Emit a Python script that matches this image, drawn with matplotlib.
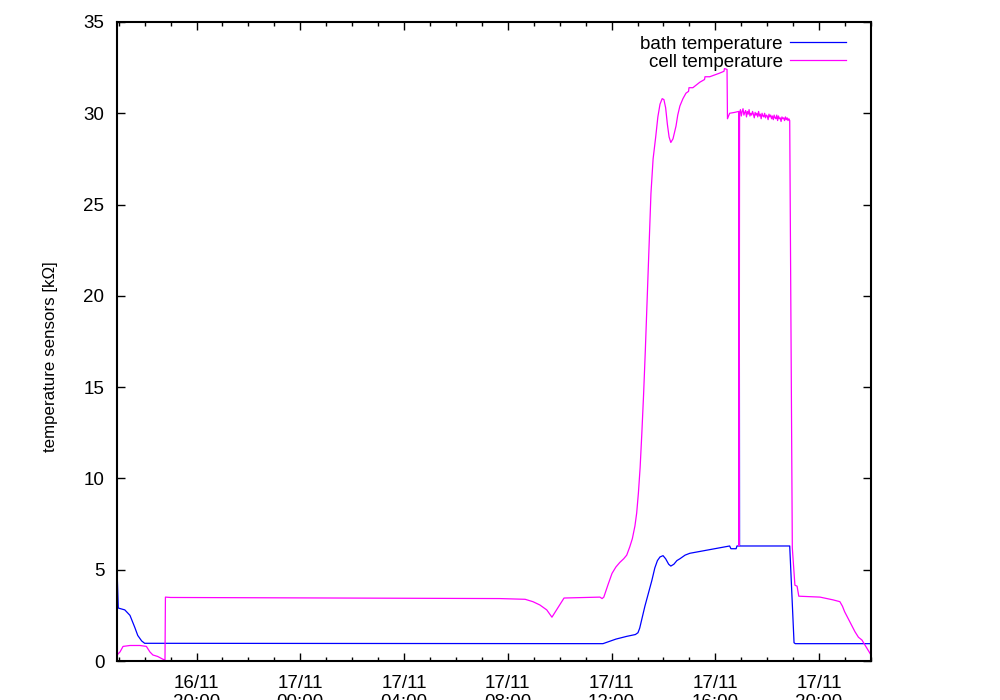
import matplotlib
matplotlib.use("Agg")

import matplotlib.pyplot as plt
import matplotlib.dates as mdates
import pandas as pd

# bath temperature sensor [kOhm]
bath_times = [
    "2011-11-16 16:56", "2011-11-16 16:59", "2011-11-16 17:14", "2011-11-16 17:26",
    "2011-11-16 17:37", "2011-11-16 17:44", "2011-11-16 17:53", "2011-11-16 18:00",
    "2011-11-17 11:40", "2011-11-17 12:10", "2011-11-17 12:35", "2011-11-17 12:55",
    "2011-11-17 13:01", "2011-11-17 13:05", "2011-11-17 13:10", "2011-11-17 13:17",
    "2011-11-17 13:25", "2011-11-17 13:33", "2011-11-17 13:40", "2011-11-17 13:46",
    "2011-11-17 13:52", "2011-11-17 13:59", "2011-11-17 14:05", "2011-11-17 14:12",
    "2011-11-17 14:17", "2011-11-17 14:24", "2011-11-17 14:31", "2011-11-17 14:38",
    "2011-11-17 14:50", "2011-11-17 15:01", "2011-11-17 15:24", "2011-11-17 15:47",
    "2011-11-17 16:10", "2011-11-17 16:33", "2011-11-17 16:36", "2011-11-17 16:48",
    "2011-11-17 16:50", "2011-11-17 16:54", "2011-11-17 16:55", "2011-11-17 16:56",
    "2011-11-17 18:52", "2011-11-17 19:02", "2011-11-17 19:05", "2011-11-17 22:00",
]
bath_values = [
    5.05, 2.9, 2.8, 2.5,
    1.85, 1.4, 1.1, 0.97,
    0.95, 1.2, 1.35, 1.45,
    1.55, 1.8, 2.3, 3.0,
    3.7, 4.4, 5.1, 5.5,
    5.7, 5.77, 5.6, 5.3,
    5.2, 5.3, 5.5, 5.6,
    5.8, 5.9, 6.0, 6.1,
    6.2, 6.3, 6.15, 6.15,
    6.3, 6.3, 30.0, 6.3,
    6.3, 1.0, 0.95, 0.95,
]

# cell temperature sensor [kOhm], part before the noisy plateau
cell_times_a = [
    "2011-11-16 16:56", "2011-11-16 16:57", "2011-11-16 17:03", "2011-11-16 17:10",
    "2011-11-16 17:26", "2011-11-16 17:49", "2011-11-16 18:04", "2011-11-16 18:12",
    "2011-11-16 18:19", "2011-11-16 18:30", "2011-11-16 18:42", "2011-11-16 18:47",
    "2011-11-16 18:48", "2011-11-16 19:00", "2011-11-17 07:41", "2011-11-17 08:40",
    "2011-11-17 08:58", "2011-11-17 09:14", "2011-11-17 09:30", "2011-11-17 09:42",
    "2011-11-17 10:10", "2011-11-17 11:33", "2011-11-17 11:38", "2011-11-17 11:42",
    "2011-11-17 11:52", "2011-11-17 12:01", "2011-11-17 12:10", "2011-11-17 12:19",
    "2011-11-17 12:28", "2011-11-17 12:35", "2011-11-17 12:42", "2011-11-17 12:48",
    "2011-11-17 12:54", "2011-11-17 12:58", "2011-11-17 13:02", "2011-11-17 13:06",
    "2011-11-17 13:10", "2011-11-17 13:14", "2011-11-17 13:18", "2011-11-17 13:24",
    "2011-11-17 13:31", "2011-11-17 13:36", "2011-11-17 13:42", "2011-11-17 13:47",
    "2011-11-17 13:52", "2011-11-17 13:57", "2011-11-17 14:01", "2011-11-17 14:05",
    "2011-11-17 14:09", "2011-11-17 14:13", "2011-11-17 14:17", "2011-11-17 14:22",
    "2011-11-17 14:29", "2011-11-17 14:33", "2011-11-17 14:38", "2011-11-17 14:45",
    "2011-11-17 14:52", "2011-11-17 14:58", "2011-11-17 14:59", "2011-11-17 15:08",
    "2011-11-17 15:24", "2011-11-17 15:35", "2011-11-17 15:36", "2011-11-17 15:47",
    "2011-11-17 16:10", "2011-11-17 16:20", "2011-11-17 16:21", "2011-11-17 16:27",
    "2011-11-17 16:28", "2011-11-17 16:33", "2011-11-17 16:45", "2011-11-17 16:54",
]
cell_values_a = [
    5.0, 0.35, 0.5, 0.8,
    0.85, 0.85, 0.8, 0.5,
    0.33, 0.25, 0.1, 0.05,
    3.5, 3.48, 3.42, 3.38,
    3.25, 3.07, 2.8, 2.4,
    3.45, 3.5, 3.42, 3.5,
    4.2, 4.8, 5.15, 5.4,
    5.6, 5.8, 6.25, 6.7,
    7.4, 8.1, 9.2, 10.6,
    12.5, 14.6, 17.0, 21.0,
    25.6, 27.5, 28.7, 29.8,
    30.5, 30.8, 30.75, 30.3,
    29.4, 28.7, 28.4, 28.6,
    29.3, 29.9, 30.4, 30.8,
    31.1, 31.2, 31.4, 31.4,
    31.7, 31.85, 32.0, 32.0,
    32.2, 32.3, 32.45, 32.4,
    29.7, 30.0, 30.05, 30.1,
]

# short dip of the cell reading at the moment of the bath spike
cell_dip_times = ["2011-11-17 16:55", "2011-11-17 16:56"]
cell_dip_values = [6.3, 30.0]

# noisy plateau, one reading every 2 min starting 16:58
cell_plateau_start = "2011-11-17 16:58"
cell_plateau_values = [
    30.2, 29.85, 30.1, 30.25, 29.9, 30.05, 30.15, 29.8, 30.1, 29.95,
    30.2, 29.85, 30.0, 29.9, 30.1, 29.95, 29.75, 30.05, 29.9, 30.0,
    29.8, 30.1, 29.85, 29.95, 29.7, 30.0, 29.85, 29.8, 30.0, 29.75,
    29.9, 29.85, 29.65, 29.95, 29.8, 29.9, 29.7, 29.85, 29.65, 29.9,
    29.75, 29.7, 29.9, 29.6, 29.85, 29.7, 29.75, 29.55, 29.8, 29.7,
    29.75, 29.6, 29.8, 29.65, 29.75, 29.6, 29.7,
]

# cell temperature after the plateau
cell_times_b = [
    "2011-11-17 18:52", "2011-11-17 18:54", "2011-11-17 18:58", "2011-11-17 19:04",
    "2011-11-17 19:09", "2011-11-17 19:13", "2011-11-17 20:02", "2011-11-17 20:32",
    "2011-11-17 20:48", "2011-11-17 20:54", "2011-11-17 20:59", "2011-11-17 21:11",
    "2011-11-17 21:23", "2011-11-17 21:31", "2011-11-17 21:39", "2011-11-17 22:00",
]
cell_values_b = [
    29.6, 21.6, 6.2, 4.15,
    4.1, 3.55, 3.5, 3.35,
    3.25, 3.0, 2.7, 2.15,
    1.6, 1.3, 1.15, 0.33,
]

x_start = "2011-11-16 16:56"
x_end = "2011-11-17 22:00"

plateau_times = pd.date_range(cell_plateau_start, periods=len(cell_plateau_values), freq="2min")

bath = pd.Series(bath_values, index=pd.to_datetime(bath_times))
cell = pd.concat([
    pd.Series(cell_values_a, index=pd.to_datetime(cell_times_a)),
    pd.Series(cell_dip_values, index=pd.to_datetime(cell_dip_times)),
    pd.Series(cell_plateau_values, index=plateau_times),
    pd.Series(cell_values_b, index=pd.to_datetime(cell_times_b)),
])

plt.rcParams["font.family"] = ["Liberation Sans", "DejaVu Sans"]

fig = plt.figure(figsize=(10, 7), dpi=100)
ax = fig.add_axes([0.117, 0.0557, 0.754, 0.9129])

ax.plot(bath.index, bath.values, color="#0000ff", lw=0.9, label="bath temperature")
ax.plot(cell.index, cell.values, color="#ff00ff", lw=0.9, label="cell temperature")

ax.set_xlim(pd.Timestamp(x_start), pd.Timestamp(x_end))
ax.set_ylim(0, 35)
ax.set_yticks(range(0, 36, 5))

ax.xaxis.set_major_locator(mdates.HourLocator(byhour=[0, 4, 8, 12, 16, 20]))
ax.xaxis.set_minor_locator(mdates.HourLocator())
ax.xaxis.set_major_formatter(mdates.DateFormatter("%d/%m\n%H:%M"))

ax.tick_params(which="both", direction="in", top=True, right=True, labelsize=13.5)
ax.tick_params(axis="x", which="major", length=6, width=1, pad=10)
ax.tick_params(axis="y", which="major", length=6, width=1, pad=9)
ax.tick_params(which="minor", length=3, width=1)
for spine in ax.spines.values():
    spine.set_linewidth(1.5)

ax.set_ylabel("temperature sensors [kΩ]", fontsize=12.2, labelpad=18)
ax.yaxis.label.set_y(0.476)

ax.legend(loc="upper right", bbox_to_anchor=(0.979, 0.993), frameon=False,
          markerfirst=False, fontsize=13.5, handlelength=3.0, handletextpad=0.37,
          borderpad=0, labelspacing=0.05)

fig.canvas.draw()
for label in ax.get_xticklabels():
    label.set_linespacing(1.15)

fig.savefig("out.png", dpi=100)
plt.close(fig)
